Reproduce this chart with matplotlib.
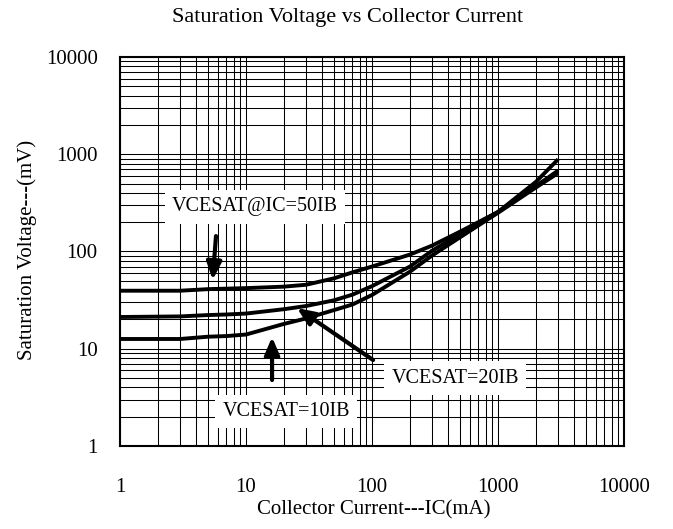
import matplotlib.pyplot as plt

plt.rcParams['font.family'] = ['Liberation Serif', 'DejaVu Serif']

# collector current (mA)
ic = [1, 3, 5, 7, 10, 20, 30, 50, 70, 100, 200, 300, 500, 1000, 2000, 3000]

# saturation voltage (mV)
vce_50ib = [39.5, 39.5, 41, 41.5, 42, 43.5, 45.5, 53, 61, 70, 93, 115, 160, 255, 520, 887]
vce_20ib = [21.2, 21.5, 22.2, 22.5, 23, 25.5, 27.5, 31.5, 36, 44, 70, 102, 150, 255, 470, 680]
vce_10ib = [12.6, 12.6, 13.3, 13.5, 14, 18, 20.5, 25, 28.5, 35.7, 62, 91, 140, 250, 455, 640]

x_ticks = [1, 10, 100, 1000, 10000]
y_ticks = [1, 10, 100, 1000, 10000]

fig = plt.figure(figsize=(6.73, 5.29), dpi=100)
ax = fig.add_axes([0.1783, 0.1569, 0.7489, 0.7354])

for v in (vce_50ib, vce_20ib, vce_10ib):
    ax.plot(ic, v, color='black', linewidth=2.8, solid_capstyle='butt', zorder=3)

ax.set_xscale('log')
ax.set_yscale('log')
ax.set_xlim(1, 10000)
ax.set_ylim(1, 10000)
ax.set_xticks(x_ticks)
ax.set_xticklabels([str(t) for t in x_ticks])
ax.set_yticks(y_ticks)
ax.set_yticklabels([str(t) for t in y_ticks])
ax.grid(which='both', color='black', linewidth=0.75)
ax.tick_params(which='both', length=0, labelsize=15)
ax.tick_params(axis='x', pad=23)
ax.tick_params(axis='y', pad=16)
for s in ax.spines.values():
    s.set_linewidth(1.5)

# labels and arrows
box = dict(boxstyle='square,pad=0.35', facecolor='white', edgecolor='none')
ax.text(11.8, 287, 'VCESAT@IC=50IB', fontsize=14.5, ha='center', va='center', bbox=box, zorder=4)
ax.text(456, 5.0, 'VCESAT=20IB', fontsize=14.5, ha='center', va='center', bbox=box, zorder=4)
ax.text(20.8, 2.24, 'VCESAT=10IB', fontsize=14.5, ha='center', va='center', bbox=box, zorder=4)

arrow = dict(arrowstyle='-|>,head_length=0.7,head_width=0.3', color='black',
             lw=3, mutation_scale=15, shrinkA=0, shrinkB=0)
ax.annotate('', xy=(5.44, 51), xytext=(5.78, 144), arrowprops=arrow, zorder=5)
ax.annotate('', xy=(25.4, 26.2), xytext=(102, 7.66), arrowprops=arrow, zorder=5)
ax.annotate('', xy=(16.1, 13.2), xytext=(16.1, 4.77), arrowprops=arrow, zorder=5)

fig.text(0.516, 0.966, 'Saturation Voltage vs Collector Current', fontsize=16,
         ha='center', va='center')
fig.text(0.555, 0.036, 'Collector Current---IC(mA)', fontsize=15, ha='center', va='center')
fig.text(0.04, 0.527, 'Saturation Voltage---(mV)', fontsize=15, ha='center', va='center',
         rotation=90)

fig.savefig('out.png', dpi=100)
